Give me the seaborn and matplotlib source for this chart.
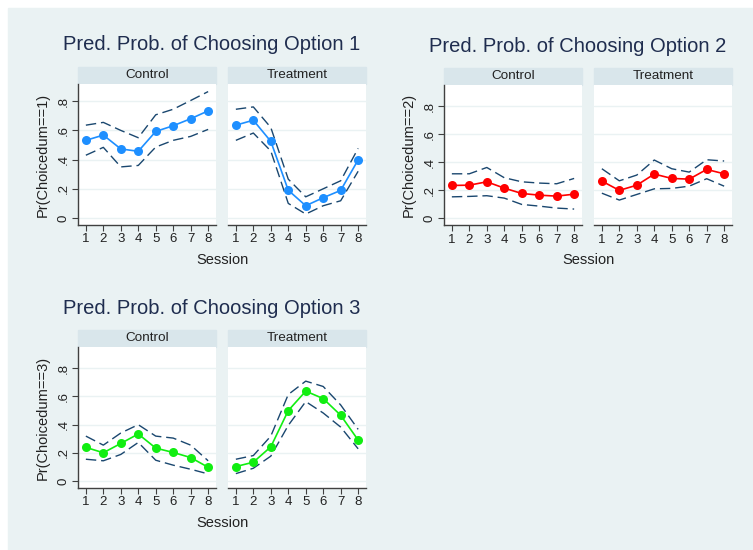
import numpy as np
import pandas as pd
import matplotlib
matplotlib.use("Agg")
import matplotlib.pyplot as plt
from matplotlib.patches import Rectangle
import seaborn as sns

sns.set_theme(style="white")
plt.rcParams["font.family"] = ["Liberation Sans", "DejaVu Sans"]

sessions = [1, 2, 3, 4, 5, 6, 7, 8]
groups = ["Control", "Treatment"]
y_ticks = [0, 0.2, 0.4, 0.6, 0.8]
y_tick_labels = ["0", ".2", ".4", ".6", ".8"]

# Option 1 predicted probabilities with 95% bounds
opt1_ctrl = [0.532, 0.568, 0.473, 0.457, 0.593, 0.632, 0.680, 0.734]
opt1_ctrl_hi = [0.636, 0.655, 0.600, 0.550, 0.707, 0.745, 0.805, 0.866]
opt1_ctrl_lo = [0.430, 0.484, 0.350, 0.360, 0.486, 0.532, 0.559, 0.607]
opt1_trt = [0.636, 0.670, 0.525, 0.190, 0.084, 0.139, 0.189, 0.398]
opt1_trt_hi = [0.745, 0.761, 0.620, 0.266, 0.145, 0.200, 0.255, 0.477]
opt1_trt_lo = [0.532, 0.582, 0.459, 0.100, 0.027, 0.084, 0.118, 0.320]

# Option 2
opt2_ctrl = [0.235, 0.237, 0.261, 0.216, 0.178, 0.166, 0.159, 0.173]
opt2_ctrl_hi = [0.318, 0.318, 0.363, 0.290, 0.261, 0.252, 0.247, 0.285]
opt2_ctrl_lo = [0.154, 0.157, 0.162, 0.145, 0.100, 0.088, 0.074, 0.067]
opt2_trt = [0.266, 0.200, 0.237, 0.316, 0.285, 0.280, 0.349, 0.318]
opt2_trt_hi = [0.354, 0.268, 0.309, 0.416, 0.354, 0.330, 0.418, 0.409]
opt2_trt_lo = [0.180, 0.131, 0.171, 0.211, 0.214, 0.230, 0.283, 0.230]

# Option 3
opt3_ctrl = [0.238, 0.200, 0.266, 0.333, 0.233, 0.202, 0.166, 0.097]
opt3_ctrl_hi = [0.318, 0.254, 0.340, 0.399, 0.318, 0.304, 0.254, 0.143]
opt3_ctrl_lo = [0.154, 0.143, 0.188, 0.273, 0.147, 0.112, 0.083, 0.050]
opt3_trt = [0.102, 0.133, 0.242, 0.499, 0.637, 0.584, 0.466, 0.290]
opt3_trt_hi = [0.154, 0.180, 0.318, 0.613, 0.708, 0.670, 0.539, 0.366]
opt3_trt_lo = [0.052, 0.090, 0.176, 0.394, 0.563, 0.482, 0.382, 0.228]

BG = "#EAF2F3"
STRIP = "#D9E6EB"
TEXT = "#1F2D4F"
CI_COLOR = "#1A476F"
AXIS = "#404040"

W, H = 753, 550
fig = plt.figure(figsize=(W / 100, H / 100), dpi=100, facecolor="white")
fig.patches.append(Rectangle((8 / W, 0), 1 - 8 / W, 1 - 8 / H,
                             transform=fig.transFigure, color=BG, zorder=-10))


def px_axes(x0, y0, x1, y1):
    ax = fig.add_axes([x0 / W, 1 - y1 / H, (x1 - x0) / W, (y1 - y0) / H])
    ax.set_zorder(2)
    return ax


def draw_option(title, ylabel, color, data, x_lefts, y_top, y_bot, ylim):
    axes = []
    for gi, (grp, (mid, hi, lo)) in enumerate(zip(groups, data)):
        x0 = x_lefts[gi]
        x1 = x0 + 138
        ax = px_axes(x0, y_top, x1, y_bot)
        ax.set_facecolor("white")
        df = pd.DataFrame({"Session": sessions, "mid": mid, "hi": hi, "lo": lo})
        for col in ["hi", "lo"]:
            sns.lineplot(data=df, x="Session", y=col, ax=ax, color=CI_COLOR,
                         lw=1.0, zorder=3)
            ax.lines[-1].set_dashes([7.5, 3.5])
        sns.lineplot(data=df, x="Session", y="mid", ax=ax, color=color,
                     lw=1.2, marker="o", markersize=6.5, markeredgewidth=0,
                     zorder=4)
        ax.set_xlim(0.55, 8.45)
        ax.set_ylim(*ylim)
        ax.set_yticks(y_ticks)
        ax.set_xticks(sessions)
        ax.set_xticklabels([str(s) for s in sessions], fontsize=9.5, color="#222222")
        ax.yaxis.grid(True, color=BG, lw=1.0)
        ax.xaxis.grid(False)
        ax.set_axisbelow(True)
        for s in ["top", "right"]:
            ax.spines[s].set_visible(False)
        ax.spines["bottom"].set_color(AXIS)
        ax.spines["bottom"].set_linewidth(1.0)
        ax.tick_params(axis="x", direction="out", length=4, width=0.8,
                       color=AXIS, pad=2, bottom=True)
        if gi == 0:
            ax.spines["left"].set_color(AXIS)
            ax.spines["left"].set_linewidth(1.0)
            ax.set_yticklabels(y_tick_labels, fontsize=9.5, color="#222222",
                               rotation=90, va="center")
            ax.tick_params(axis="y", direction="out", length=4, width=0.8,
                           color=AXIS, pad=2, left=True)
            ax.set_ylabel(ylabel, fontsize=10.5, color="#222222", labelpad=6)
        else:
            ax.spines["left"].set_visible(False)
            ax.set_yticklabels([])
            ax.tick_params(axis="y", left=False)
            ax.set_ylabel("")
        ax.set_xlabel("")
        # strip header
        strip_h = 17
        fig.patches.append(Rectangle((x0 / W, 1 - y_top / H), 138 / W, strip_h / H,
                                     transform=fig.transFigure, color=STRIP,
                                     zorder=1))
        fig.text((x0 + 69) / W, 1 - (y_top - strip_h / 2 - 0.5) / H, grp,
                 ha="center", va="center", fontsize=9.7, color="#222222")
        axes.append(ax)
    cx = (x_lefts[0] + x_lefts[1] + 138) / 2
    fig.text(cx / W, 1 - (y_bot + 35) / H, "Session", ha="center", va="center",
             fontsize=10.5, color="#222222")
    fig.text((cx - 10) / W, 1 - (y_top - 39) / H, title, ha="center", va="center",
             fontsize=14.5, color=TEXT)
    return axes


draw_option("Pred. Prob. of Choosing Option 1", "Pr(Choicedum==1)", "#1E8FFF",
            [(opt1_ctrl, opt1_ctrl_hi, opt1_ctrl_lo),
             (opt1_trt, opt1_trt_hi, opt1_trt_lo)],
            [78, 228], 84, 225, (-0.048, 0.918))
draw_option("Pred. Prob. of Choosing Option 2", "Pr(Choicedum==2)", "#FF0000",
            [(opt2_ctrl, opt2_ctrl_hi, opt2_ctrl_lo),
             (opt2_trt, opt2_trt_hi, opt2_trt_lo)],
            [444, 594], 85, 225.5, (-0.05, 0.95))
draw_option("Pred. Prob. of Choosing Option 3", "Pr(Choicedum==3)", "#11EE11",
            [(opt3_ctrl, opt3_ctrl_hi, opt3_ctrl_lo),
             (opt3_trt, opt3_trt_hi, opt3_trt_lo)],
            [78, 228], 347, 488, (-0.05, 0.95))

fig.savefig("out.png", dpi=100, facecolor="white")
